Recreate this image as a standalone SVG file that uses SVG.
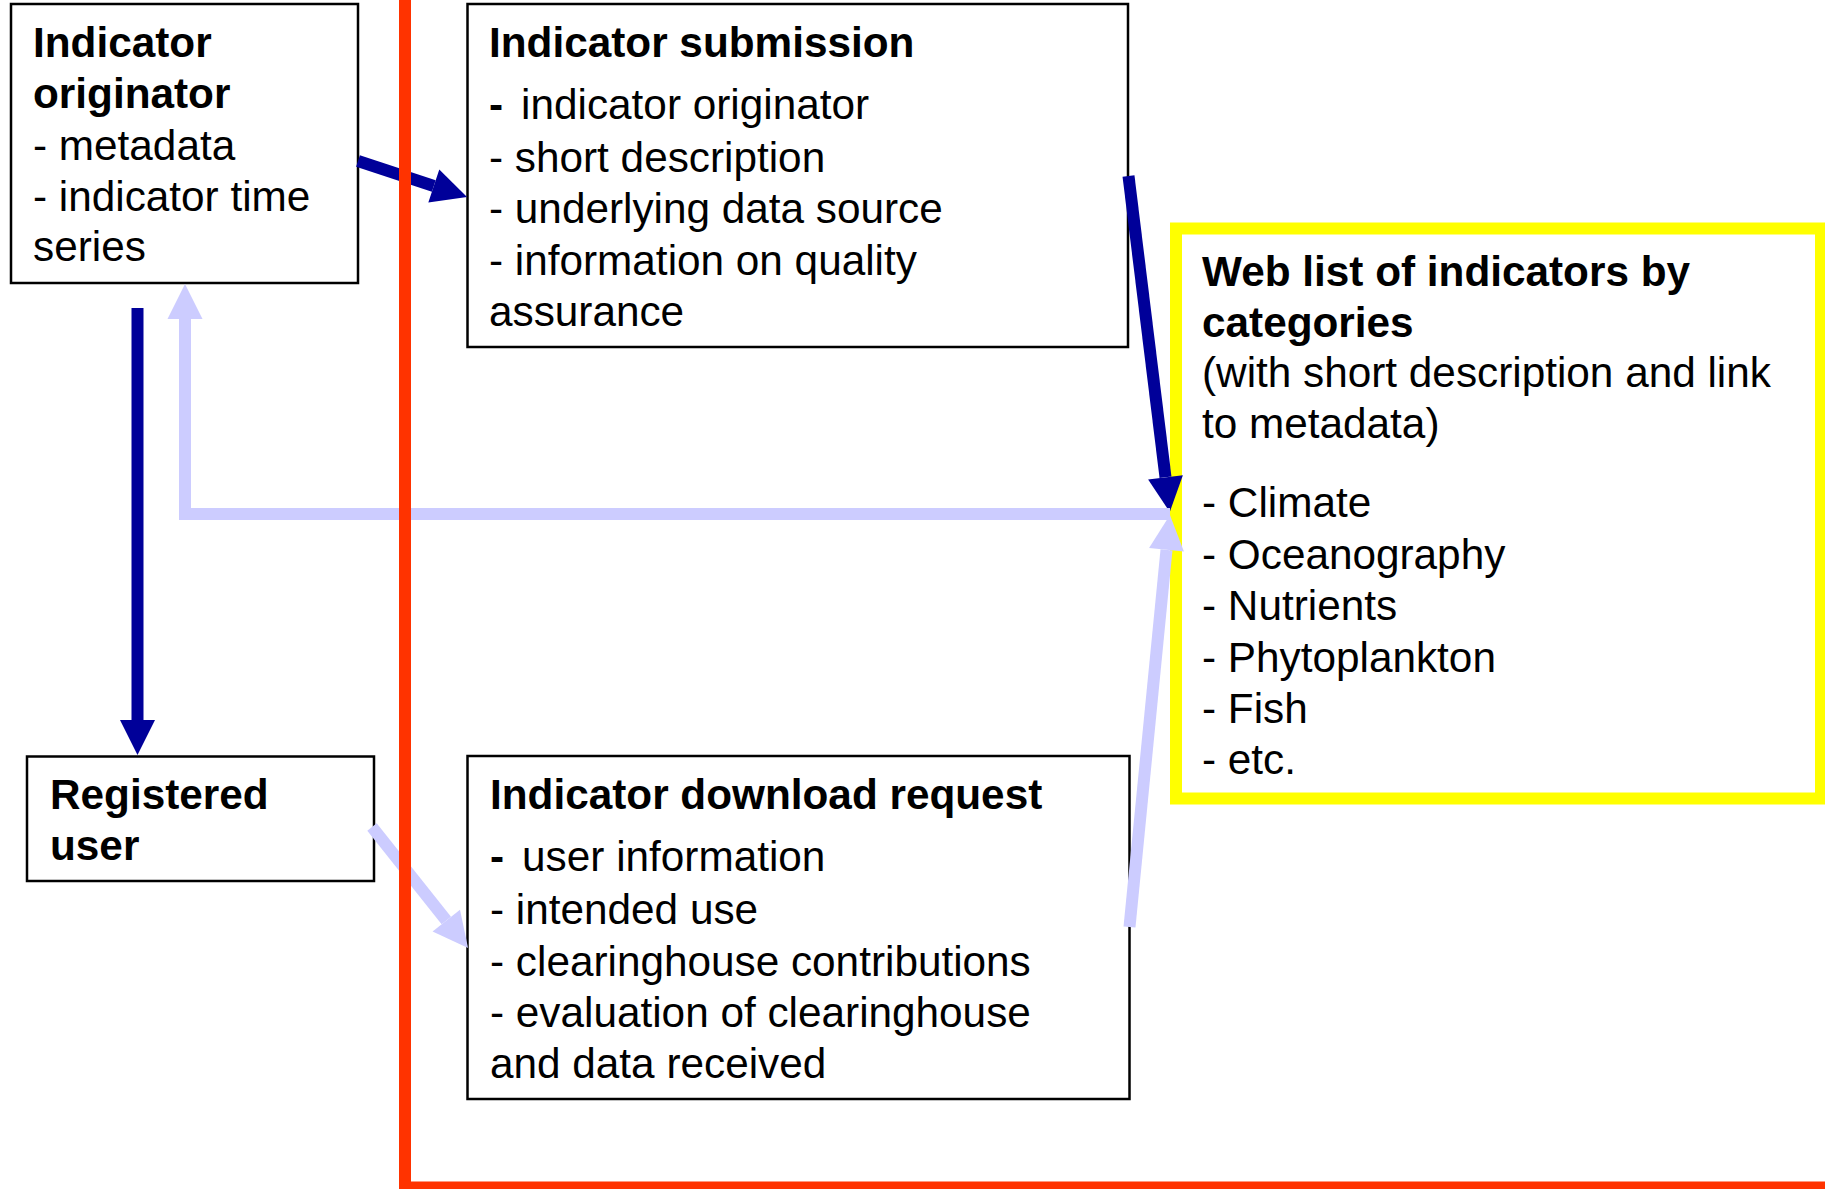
<svg xmlns="http://www.w3.org/2000/svg" width="1825" height="1189" viewBox="0 0 1825 1189">
  <style>
    text { font-family: "Liberation Sans", Arial, sans-serif; font-size: 42.3px; fill: #000; }
    .b { font-weight: bold; }
    .box { fill: #fff; stroke: #000; stroke-width: 2.5; }
    .web { fill: #fff; stroke: #ffff00; stroke-width: 12; }
    .dark { fill: none; stroke: #000099; stroke-width: 12; marker-end: url(#headDark); }
    .light { fill: none; stroke: #ccccff; stroke-width: 12; marker-end: url(#headLight); }
    .boundary { fill: none; stroke: #ff3300; stroke-width: 12; }
  </style>
  <defs>
    <marker id="headDark" markerUnits="userSpaceOnUse" markerWidth="36" markerHeight="36" refX="0" refY="17.5" orient="auto" overflow="visible">
      <path d="M0,0 L35,17.5 L0,35 Z" fill="#000099"/>
    </marker>
    <marker id="headLight" markerUnits="userSpaceOnUse" markerWidth="36" markerHeight="36" refX="0" refY="17.5" orient="auto" overflow="visible">
      <path d="M0,0 L35,17.5 L0,35 Z" fill="#ccccff"/>
    </marker>
  </defs>

  <!-- Nodes -->
  <g id="web-list">
    <rect class="web" x="1176" y="228.5" width="645" height="570"/>
    <text x="1202" y="286" class="b">Web list of indicators by</text>
    <text x="1202" y="337" class="b">categories</text>
    <text x="1202" y="387">(with short description and link</text>
    <text x="1202" y="438">to metadata)</text>
    <text x="1202" y="517">- Climate</text>
    <text x="1202" y="569">- Oceanography</text>
    <text x="1202" y="620">- Nutrients</text>
    <text x="1202" y="672">- Phytoplankton</text>
    <text x="1202" y="723">- Fish</text>
    <text x="1202" y="774">- etc.</text>
  </g>

  <g id="indicator-originator">
    <rect class="box" x="11" y="4" width="347" height="279"/>
    <text x="33" y="57" class="b">Indicator</text>
    <text x="33" y="108" class="b">originator</text>
    <text x="33" y="160">- metadata</text>
    <text x="33" y="211">- indicator time</text>
    <text x="33" y="261">series</text>
  </g>

  <g id="indicator-submission">
    <rect class="box" x="467.5" y="4" width="660.5" height="343"/>
    <text x="489" y="57" class="b">Indicator submission</text>
    <text x="489" y="119"><tspan class="b">-</tspan><tspan dx="18">indicator originator</tspan></text>
    <text x="489" y="172">- short description</text>
    <text x="489" y="223">- underlying data source</text>
    <text x="489" y="275">- information on quality</text>
    <text x="489" y="326">assurance</text>
  </g>

  <g id="registered-user">
    <rect class="box" x="27" y="756.5" width="347" height="124.5"/>
    <text x="50" y="809" class="b">Registered</text>
    <text x="50" y="860" class="b">user</text>
  </g>

  <g id="download-request">
    <rect class="box" x="467.5" y="756" width="662" height="343"/>
    <text x="490" y="809" class="b">Indicator download request</text>
    <text x="490" y="871"><tspan class="b">-</tspan><tspan dx="18">user information</tspan></text>
    <text x="490" y="924">- intended use</text>
    <text x="490" y="976">- clearinghouse contributions</text>
    <text x="490" y="1027">- evaluation of clearinghouse</text>
    <text x="490" y="1078">and data received</text>
  </g>

  <!-- Connectors -->
  <g id="connectors">
    <path class="dark" d="M358,161 L433.8,186"/>
    <path class="dark" d="M1128.5,176 L1165.5,477.3"/>
    <path class="dark" d="M137.5,308 L137.5,720"/>
    <path class="light" d="M1170,514 H185 V319"/>
    <path class="light" d="M372,827 L446.3,920.6"/>
    <path class="light" d="M1129.5,927 L1166.5,549.8"/>
  </g>

  <!-- Boundary line drawn over the connectors -->
  <g id="boundary">
    <path class="boundary" d="M405,0 V1187.5 H1825"/>
  </g>
</svg>
